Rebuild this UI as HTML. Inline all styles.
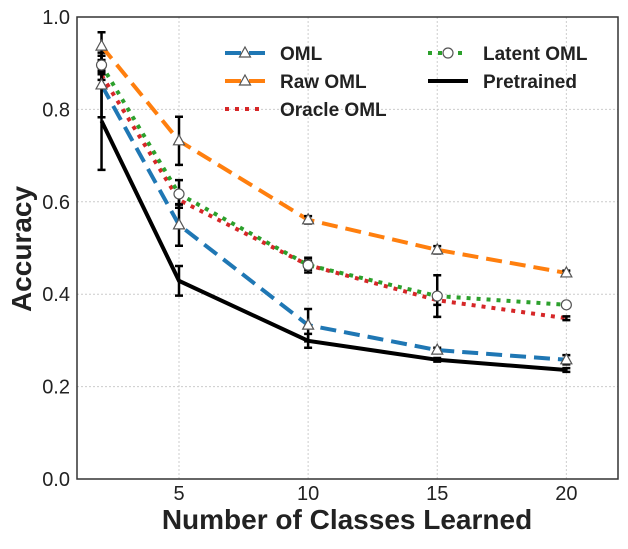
<!DOCTYPE html>
<html><head><meta charset="utf-8"><style>
body{margin:0;background:#fff;}
svg text{font-family:"Liberation Sans",sans-serif;fill:#222;}
</style></head><body>
<svg id="chart" width="628" height="544"></svg>
<script>
const xs=[2,5,10,15,20];
const xTicks=[5,10,15,20];
const yTicks=[0.0,0.2,0.4,0.6,0.8,1.0];
const omlVals=[0.853,0.55,0.333,0.279,0.258];
const omlErr=[0.07,0.045,0.035,0.005,0.01];
const rawVals=[0.937,0.732,0.561,0.496,0.446];
const rawErr=[0.03,0.052,0.008,0.008,0.005];
const oracleVals=[0.874,0.604,0.463,0.387,0.348];
const oracleErr=[0.01,0.01,0.01,0.01,0.004];
const latentVals=[0.896,0.617,0.463,0.396,0.377];
const latentErr=[0.02,0.03,0.016,0.045,0.005];
const pretrainedVals=[0.775,0.429,0.299,0.258,0.236];
const pretrainedErr=[0.106,0.032,0.015,0.004,0.004];

const L=77,R=618,T=17,B=479;
const xMin=1.05,xMax=22.0;
const X=v=>L+(v-xMin)/(xMax-xMin)*(R-L);
const Y=v=>B-v*(B-T);
const svg=document.getElementById('chart');
const NS='http://www.w3.org/2000/svg';
function mk(tag,attrs,parent){const e=document.createElementNS(NS,tag);for(const k in attrs)e.setAttribute(k,attrs[k]);(parent||svg).appendChild(e);return e;}

xTicks.forEach(t=>{const g=mk('line',{x1:X(t),x2:X(t),y1:T,y2:B,stroke:'#ccc','stroke-dasharray':'2,2','stroke-width':1});


const tx=mk('text',{x:X(t),y:500,'text-anchor':'middle','font-size':20});tx.textContent=t;

});
yTicks.forEach(t=>{const g=mk('line',{x1:L,x2:R,y1:Y(t),y2:Y(t),stroke:'#ccc','stroke-dasharray':'2,2','stroke-width':1});


const tx=mk('text',{x:70,y:Y(t)+7,'text-anchor':'end','font-size':20});tx.textContent=t.toFixed(1);

});

const series=[
 {name:'oml',vals:omlVals,err:omlErr,color:'#1f77b4',dash:'16,8',marker:'tri'},
 {name:'raw-oml',vals:rawVals,err:rawErr,color:'#ff7f0e',dash:'16,8',marker:'tri'},
 {name:'oracle-oml',vals:oracleVals,err:oracleErr,color:'#d62728',dash:'4,6',marker:null},
 {name:'latent-oml',vals:latentVals,err:latentErr,color:'#2ca02c',dash:'4,6',marker:'circ'},
 {name:'pretrained',vals:pretrainedVals,err:pretrainedErr,color:'#000',dash:null,marker:null}
];
series.forEach(s=>{
 const pts=xs.map((x,i)=>X(x)+','+Y(s.vals[i])).join(' ');
 const a={points:pts,fill:'none',stroke:s.color,'stroke-width':4};
 if(s.dash)a['stroke-dasharray']=s.dash;
 const pl=mk('polyline',a);
 
 
 xs.forEach((x,i)=>{
  const cx=X(x),y1=Y(s.vals[i]+s.err[i]),y2=Y(s.vals[i]-s.err[i]);
  const eb=mk('path',{d:`M${cx},${y1}V${y2}M${cx-4},${y1}H${cx+4}M${cx-4},${y2}H${cx+4}`,stroke:'#000','stroke-width':2.5,fill:'none'});
  
  
 });
});
series.forEach(s=>{
 xs.forEach((x,i)=>{
  const cx=X(x),cy=Y(s.vals[i]);let m=null;
  if(s.marker==='tri')m=mk('path',{d:`M${cx},${cy-6}L${cx+5.5},${cy+4}L${cx-5.5},${cy+4}Z`,fill:'#fff',stroke:'#555','stroke-width':1.2});
  else if(s.marker==='circ')m=mk('circle',{cx:cx,cy:cy,r:5,fill:'#fff',stroke:'#555','stroke-width':1.2});
  if(m){
  }
 });
});

const leg=[
 {s:0,label:'OML',x:225,y:53},{s:1,label:'Raw OML',x:225,y:81},{s:2,label:'Oracle OML',x:225,y:109},
 {s:3,label:'Latent OML',x:428,y:53},{s:4,label:'Pretrained',x:428,y:81}];
leg.forEach(e=>{const s=series[e.s];
 const a={x1:e.x,x2:e.x+40,y1:e.y,y2:e.y,stroke:s.color,'stroke-width':4};
 if(s.dash)a['stroke-dasharray']=s.dash;
 const ln=mk('line',a);
 
 
 const cx=e.x+20,cy=e.y;
 if(s.marker==='tri')mk('path',{d:`M${cx},${cy-6}L${cx+5.5},${cy+4}L${cx-5.5},${cy+4}Z`,fill:'#fff',stroke:'#555','stroke-width':1.2});
 if(s.marker==='circ')mk('circle',{cx:cx,cy:cy,r:5,fill:'#fff',stroke:'#555','stroke-width':1.2});
 const t=mk('text',{x:e.x+55,y:e.y+7,'font-size':19,'font-weight':'bold'});t.textContent=e.label;
 
 
});

const fr=mk('rect',{x:L,y:T,width:R-L,height:B-T,fill:'none',stroke:'#333','stroke-width':1.5});


const xl=mk('text',{x:347,y:529,'text-anchor':'middle','font-size':28,'font-weight':'bold'});xl.textContent='Number of Classes Learned';


const yl=mk('text',{x:0,y:0,'text-anchor':'middle','font-size':28,'font-weight':'bold',transform:'translate(31,249) rotate(-90)'});yl.textContent='Accuracy';


</script>
</body></html>
